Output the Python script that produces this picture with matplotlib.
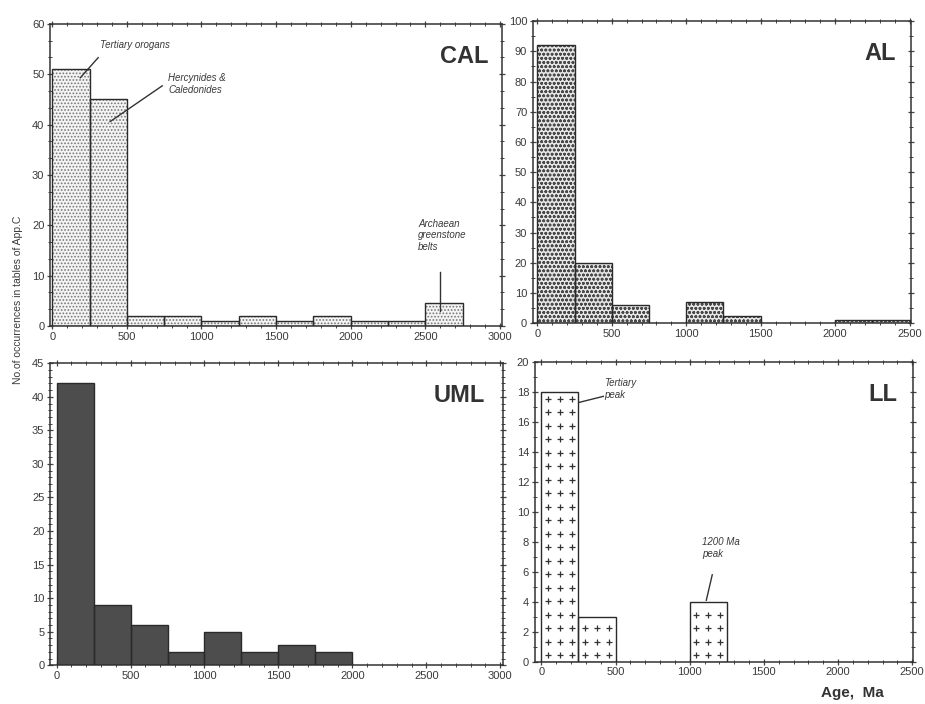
import numpy as np
import matplotlib.pyplot as plt
from matplotlib.ticker import MultipleLocator, AutoMinorLocator

# bin left edges (Ma), bin width 250
bin_width = 250
cal_edges = [0, 250, 500, 750, 1000, 1250, 1500, 1750, 2000, 2250, 2500]
cal_counts = [51, 45, 2, 2, 1, 2, 1, 2, 1, 1, 4.5]

al_edges = [0, 250, 500, 1000, 1250, 2000, 2250]
al_counts = [92, 20, 6, 7, 2.5, 1, 1]

uml_edges = [0, 250, 500, 750, 1000, 1250, 1500, 1750]
uml_counts = [42, 9, 6, 2, 5, 2, 3, 2]

ll_edges = [0, 250, 1000]
ll_counts = [18, 3, 4]

txt_col = '#3a3a3a'
plt.rcParams['font.family'] = ['Liberation Sans', 'DejaVu Sans']

fig = plt.figure(figsize=(9.25, 7.04), dpi=100)
ax_cal = fig.add_axes([0.054, 0.537, 0.489, 0.429])
ax_al = fig.add_axes([0.576, 0.541, 0.409, 0.429])
ax_uml = fig.add_axes([0.054, 0.055, 0.490, 0.429])
ax_ll = fig.add_axes([0.578, 0.060, 0.409, 0.426])


def style(ax, xlim, ylim, ystep, xminor, yminor):
    ax.set_xlim(*xlim)
    ax.set_ylim(*ylim)
    ax.xaxis.set_major_locator(MultipleLocator(500))
    ax.yaxis.set_major_locator(MultipleLocator(ystep))
    ax.xaxis.set_minor_locator(AutoMinorLocator(xminor))
    ax.yaxis.set_minor_locator(AutoMinorLocator(yminor))
    ax.tick_params(which='both', direction='inout', top=True, right=True,
                   colors='#444444', labelcolor=txt_col, labelsize=8, pad=2)
    ax.tick_params(which='major', length=4, width=0.9)
    ax.tick_params(which='minor', length=2.5, width=0.7)
    for s in ax.spines.values():
        s.set_color('#333333')
        s.set_linewidth(1.1)


def draw_bars(ax, edges, counts, face, hatch, hcol):
    plt.rcParams['hatch.color'] = hcol
    plt.rcParams['hatch.linewidth'] = 0.8
    ax.bar(edges, counts, width=bin_width, align='edge', color=face,
           hatch=hatch, linewidth=0, zorder=2)
    ax.bar(edges, counts, width=bin_width, align='edge', fill=False,
           edgecolor='#2a2a2a', linewidth=1.0, zorder=3)


# CAL
draw_bars(ax_cal, cal_edges, cal_counts, '#f4f4f4', '.....', '#777777')
style(ax_cal, (-15, 3015), (0, 60), 10, 5, 3)
ax_cal.text(0.97, 0.93, 'CAL', transform=ax_cal.transAxes, ha='right',
            va='top', fontsize=17, fontweight='bold', color='#333333')
ann = dict(fontsize=7, style='italic', color=txt_col)
ax_cal.text(320, 55.9, 'Tertiary orogans', va='center', **ann)
ax_cal.plot([308, 188], [53.3, 49.3], color='#333333', lw=1)
ax_cal.text(777, 48.1, 'Hercynides &\nCaledonides', va='center',
            linespacing=1.2, **ann)
ax_cal.plot([737, 388], [47.7, 40.6], color='#333333', lw=1)
ax_cal.text(2451, 21.3, 'Archaean\ngreenstone\nbelts', va='top',
            linespacing=1.2, **ann)
ax_cal.plot([2600, 2600], [10.7, 3.0], color='#333333', lw=1)

# AL
draw_bars(ax_al, al_edges, al_counts, '#e6e6e6', 'oooo', '#4a4a4a')
style(ax_al, (-30, 2510), (0, 100), 10, 5, 2)
ax_al.text(0.96, 0.93, 'AL', transform=ax_al.transAxes, ha='right',
           va='top', fontsize=17, fontweight='bold', color='#333333')

# UML
draw_bars(ax_uml, uml_edges, uml_counts, '#4d4d4d', None, '#4d4d4d')
style(ax_uml, (-45, 3020), (0, 45), 5, 5, 5)
ax_uml.text(0.96, 0.93, 'UML', transform=ax_uml.transAxes, ha='right',
            va='top', fontsize=17, fontweight='bold', color='#333333')

# LL
draw_bars(ax_ll, ll_edges, ll_counts, 'white', None, '#333333')
for x0, h in zip(ll_edges, ll_counts):
    gx = x0 + np.array([45, 125, 205])
    gy = np.arange(0.45, h, 0.9)
    X, Y = np.meshgrid(gx, gy)
    ax_ll.scatter(X.ravel(), Y.ravel(), marker='+', s=22, color='#333333',
                  linewidths=0.9, zorder=4)
style(ax_ll, (-45, 2505), (0, 20), 2, 5, 2)
ax_ll.text(0.96, 0.93, 'LL', transform=ax_ll.transAxes, ha='right',
           va='top', fontsize=17, fontweight='bold', color='#333333')
ax_ll.text(425, 18.9, 'Tertiary\npeak', va='top', linespacing=1.2, **ann)
ax_ll.plot([418, 256], [17.7, 17.3], color='#333333', lw=1)
ax_ll.text(1085, 8.3, '1200 Ma\npeak', va='top', linespacing=1.2, **ann)
ax_ll.plot([1152, 1112], [5.8, 4.1], color='#333333', lw=1)

fig.text(0.0195, 0.574, 'No.of occurrences in tables of App.C', rotation=90,
         ha='center', va='center', fontsize=7.5, color=txt_col)
fig.text(0.922, 0.016, 'Age,  Ma', ha='center', va='center', fontsize=11,
         fontweight='bold', color='#333333')

fig.savefig('out.png', dpi=100)
